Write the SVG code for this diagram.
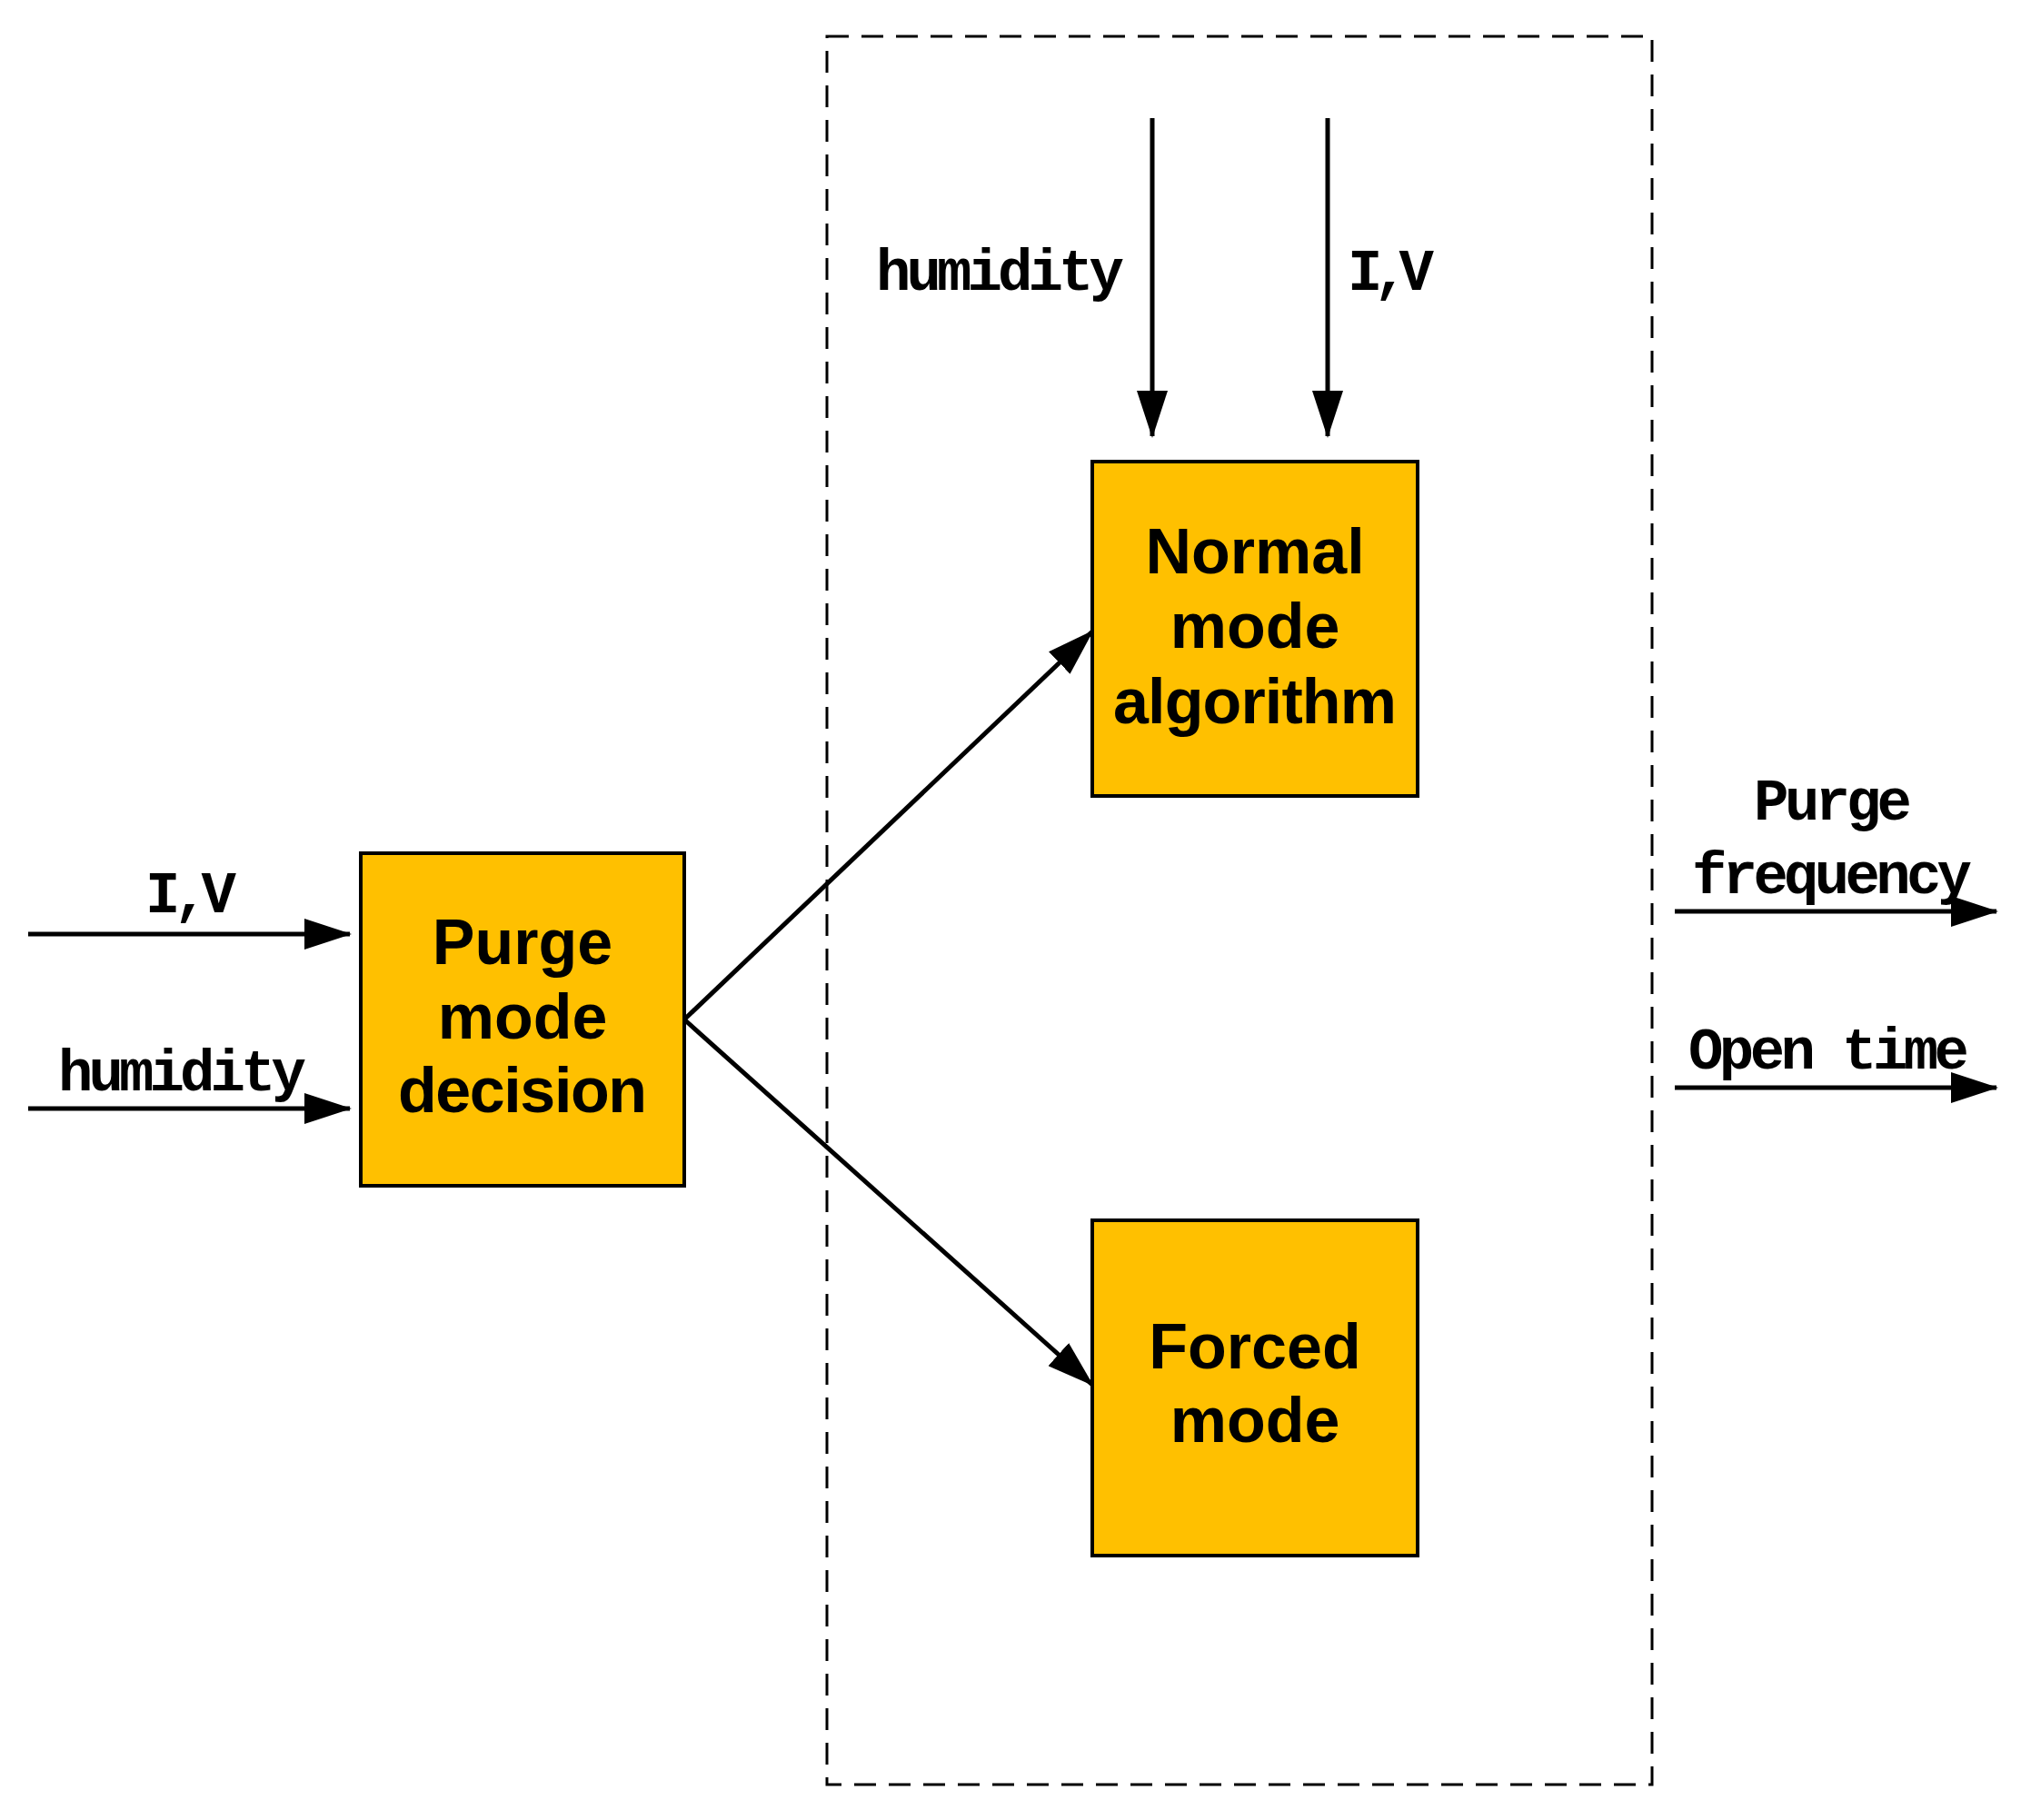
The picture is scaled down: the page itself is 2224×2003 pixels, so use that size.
<svg xmlns="http://www.w3.org/2000/svg" width="2224" height="2003" viewBox="0 0 2224 2003">
<style>
.box{fill:#FFC000;stroke:#000;stroke-width:4}
.bt{font-family:"Liberation Sans",Arial,sans-serif;font-weight:bold;font-size:70px;text-anchor:middle;fill:#000}
.lb{font-family:"Liberation Mono","DejaVu Sans Mono",monospace;font-weight:bold;font-size:64px;fill:#000}
.ar{stroke:#000;stroke-width:5;fill:none;marker-end:url(#ah)}
</style>
<defs>
<marker id="ah" markerUnits="userSpaceOnUse" markerWidth="52" markerHeight="34" refX="50" refY="17" orient="auto">
<path d="M0,0 L52,17 L0,34 Z" fill="#000"/>
</marker>
</defs>
<rect x="0" y="0" width="2224" height="2003" fill="#fff"/>
<rect id="dashed" x="910" y="40" width="908" height="1924" fill="none" stroke="#000" stroke-width="3" stroke-dasharray="24,14"/>
<g id="connectors">
<line class="ar" x1="31" y1="1028" x2="385" y2="1028"/>
<line class="ar" x1="31" y1="1220" x2="385" y2="1220"/>
<line class="ar" x1="1268" y1="130" x2="1268" y2="480"/>
<line class="ar" x1="1461" y1="130" x2="1461" y2="480"/>
<line class="ar" x1="753" y1="1122" x2="1202" y2="695"/>
<line class="ar" x1="753" y1="1122" x2="1202" y2="1524"/>
<line class="ar" x1="1843" y1="1003" x2="2197" y2="1003"/>
<line class="ar" x1="1843" y1="1197" x2="2197" y2="1197"/>
</g>
<g id="labels">
<text class="lb" x="160" y="1004" textLength="100">I,V</text>
<text class="lb" x="64" y="1200" textLength="273">humidity</text>
<text class="lb" x="964" y="319" textLength="273">humidity</text>
<text class="lb" x="1483" y="319" textLength="95">I,V</text>
<text class="lb" x="1930" y="902" textLength="174">Purge</text>
<text class="lb" x="1862" y="983" textLength="308">frequency</text>
<text class="lb" x="1858" y="1176" textLength="309">Open time</text>
</g>
<g id="purge">
<rect class="box" x="397" y="939" width="356" height="366"/>
<text class="bt" x="575" y="1061">Purge</text>
<text class="bt" x="575" y="1143">mode</text>
<text class="bt" x="575" y="1224" textLength="274">decision</text>
</g>
<g id="normal">
<rect class="box" x="1202" y="508" width="358" height="368"/>
<text class="bt" x="1381" y="631">Normal</text>
<text class="bt" x="1381" y="713">mode</text>
<text class="bt" x="1381" y="796" textLength="312">algorithm</text>
</g>
<g id="forced">
<rect class="box" x="1202" y="1343" width="358" height="369"/>
<text class="bt" x="1381" y="1506">Forced</text>
<text class="bt" x="1381" y="1587">mode</text>
</g>
</svg>
